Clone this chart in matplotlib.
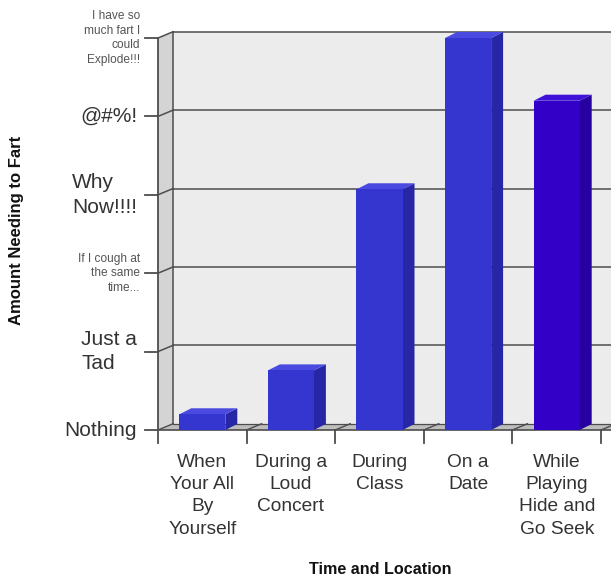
import matplotlib
matplotlib.use("Agg")
import matplotlib.pyplot as plt
from matplotlib.patches import Polygon

# ---- data -------------------------------------------------------------
categories = [
    "When\nYour All\nBy\nYourself",
    "During a\nLoud\nConcert",
    "During\nClass",
    "On a\nDate",
    "While\nPlaying\nHide and\nGo Seek",
]
amounts = [0.2, 0.76, 3.07, 5.0, 4.2]
level_labels = [
    "Nothing",
    "Just a\nTad",
    "If I cough at\nthe same\ntime...",
    "Why\nNow!!!!",
    "@#%!",
    "I have so\nmuch fart I\ncould\nExplode!!!",
]
small_levels = [2, 5]

# ---- styling ----------------------------------------------------------
plt.rcParams["font.family"] = ["Liberation Sans", "DejaVu Sans"]
FACE = ["#3535cf", "#3535cf", "#3535cf", "#3535cf", "#3300c8"]
SIDE = ["#2626a6", "#2626a6", "#2626a6", "#2626a6", "#2700a0"]
TOP = ["#4a4ae0", "#4a4ae0", "#4a4ae0", "#4a4ae0", "#3f12d8"]
WALL_BACK = "#ececec"
WALL_LEFT = "#d4d4d4"
FLOOR = "#bdbdbd"
LINE = "#4d4d4d"
TEXT = "#333333"

n = len(categories)
ymax = len(level_labels) - 1

# depth offsets (data units) for the pseudo-3D walls and bars
wdx, wdy = 0.17, 0.08
bdx, bdy = 0.135, 0.077
half = 0.26

fig = plt.figure(figsize=(6.11, 5.81), dpi=100)
fig.patch.set_facecolor("white")
ax = fig.add_axes([158 / 611, 151 / 581, 443 / 611, 392 / 581])
ax.set_xlim(0, n)
ax.set_ylim(0, ymax)
ax.axis("off")


def poly(pts, fc, ec="none", lw=0.0, z=1):
    ax.add_patch(Polygon(pts, closed=True, facecolor=fc, edgecolor=ec,
                         linewidth=lw, zorder=z, clip_on=False,
                         joinstyle="miter"))


# back wall (runs past the right edge of the figure)
poly([(wdx, wdy), (n + wdx, wdy), (n + wdx, ymax + wdy), (wdx, ymax + wdy)],
     WALL_BACK, z=1)
# left wall
poly([(0, 0), (wdx, wdy), (wdx, ymax + wdy), (0, ymax)], WALL_LEFT, z=1)

# gridlines on back and left walls
for k in range(1, ymax + 1):
    ax.plot([wdx, n + wdx], [k + wdy, k + wdy], color=LINE, lw=1.1,
            zorder=2, clip_on=False)
    ax.plot([0, wdx], [k, k + wdy], color=LINE, lw=1.1, zorder=2,
            clip_on=False)
# wall edges
ax.plot([wdx, wdx], [wdy, ymax + wdy], color=LINE, lw=1.1, zorder=2,
        clip_on=False)
ax.plot([0, 0], [0, ymax], color=LINE, lw=1.3, zorder=2, clip_on=False)

# floor
poly([(0, 0), (n + wdx, 0), (n + wdx, wdy), (wdx, wdy)], FLOOR, z=3)
ax.plot([0, n + wdx], [0, 0], color=LINE, lw=1.2, zorder=3, clip_on=False)
ax.plot([wdx, n + wdx], [wdy, wdy], color=LINE, lw=0.9, zorder=3,
        clip_on=False)
for b in range(n + 1):
    ax.plot([b, b + wdx], [0, wdy], color=LINE, lw=1.0, zorder=3,
            clip_on=False)
    # category tick below the floor
    ax.plot([b, b], [0, -0.17], color=LINE, lw=1.3, zorder=3, clip_on=False)

# value ticks on the front-left edge
for k in range(ymax + 1):
    ax.plot([-0.15, 0], [k, k], color=LINE, lw=1.3, zorder=3, clip_on=False)

# bars
for i, v in enumerate(amounts):
    c = i + 0.5
    x0, x1 = c - half, c + half
    poly([(x1, 0), (x1 + bdx, bdy), (x1 + bdx, v + bdy), (x1, v)],
         SIDE[i], z=5)
    poly([(x0, v), (x1, v), (x1 + bdx, v + bdy), (x0 + bdx, v + bdy)],
         TOP[i], z=5)
    poly([(x0, 0), (x1, 0), (x1, v), (x0, v)], FACE[i], z=6)

# value-level labels
for k, lab in enumerate(level_labels):
    if k in small_levels:
        ax.text(-0.2, k, lab, ha="right", va="center", multialignment="right",
                fontsize=8.6, color="#555555", linespacing=1.3, zorder=7)
    else:
        ax.text(-0.235, k, lab, ha="right", va="center", multialignment="left",
                fontsize=15, color=TEXT, linespacing=1.38, zorder=7)

# category labels
for i, lab in enumerate(categories):
    ax.text(i + 0.5, -0.3, lab, ha="center", va="top",
            multialignment="center", fontsize=13.8, color=TEXT,
            linespacing=1.42, zorder=7)

fig.text(17 / 611, 1 - 230 / 581, "Amount Needing to Fart", rotation=90,
         ha="center", va="center", fontsize=12, fontweight="bold",
         color="#111111")
fig.text(380 / 611, 1 - 570 / 581, "Time and Location", ha="center",
         va="center", fontsize=11.6, fontweight="bold", color="#111111")

fig.savefig("out.png", dpi=100, facecolor="white")
